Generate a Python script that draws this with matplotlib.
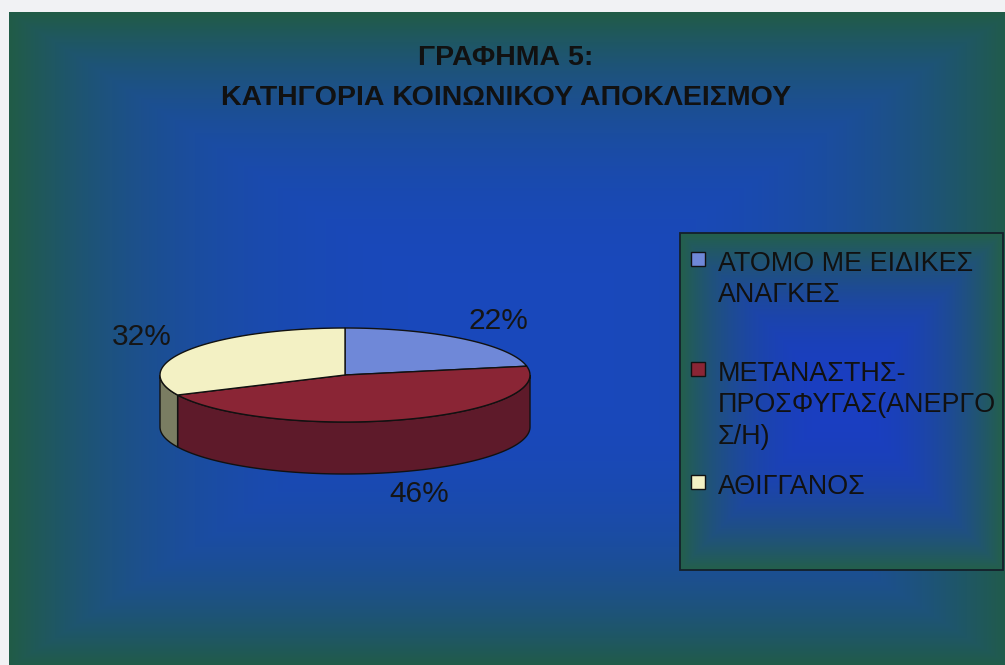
import numpy as np
import matplotlib
matplotlib.use('Agg')
from matplotlib import pyplot as plt
from matplotlib.patches import Polygon, Rectangle
from matplotlib.colors import to_rgb

# chart data
title_lines = ['ΓΡΑΦΗΜΑ 5:', 'ΚΑΤΗΓΟΡΙΑ ΚΟΙΝΩΝΙΚΟΥ ΑΠΟΚΛΕΙΣΜΟΥ']
labels = ['ΑΤΟΜΟ ΜΕ ΕΙΔΙΚΕΣ\nΑΝΑΓΚΕΣ',
          'ΜΕΤΑΝΑΣΤΗΣ-\nΠΡΟΣΦΥΓΑΣ(ΑΝΕΡΓΟ\nΣ/Η)',
          'ΑΘΙΓΓΑΝΟΣ']
shares = [22, 46, 32]
top_colors = ['#6f88d8', '#8a2535', '#f3f1c4']
side_colors = ['#4a5c98', '#5e1a2a', '#7a7d62']

plt.rcParams['font.family'] = ['Liberation Sans', 'DejaVu Sans']

fig = plt.figure(figsize=(10.05, 6.65), dpi=100)
fig.patch.set_facecolor('#f1f2f4')
ax = fig.add_axes([0, 0, 1, 1])
ax.axis('off')


def gradient(x0, y0, x1, y1, inner, outer, power, z):
    # rectangular "from centre" fill, like the old Excel chart areas
    w, h = int(x1 - x0), int(y1 - y0)
    yy, xx = np.mgrid[0:h, 0:w]
    tx = np.abs((xx + 0.5) / w * 2 - 1)
    ty = np.abs((yy + 0.5) / h * 2 - 1)
    t = (np.maximum(tx, ty) ** power)[..., None]
    img = np.array(to_rgb(inner)) * (1 - t) + np.array(to_rgb(outer)) * t
    ax.imshow(img, extent=(x0, x1, y1, y0), zorder=z, interpolation='none')


# chart area background
gradient(9, 12, 1012, 668, '#1948bc', '#215c46', 3.0, 0)

# title
for i, line in enumerate(title_lines):
    ax.text(506, 65 + 40 * i, line, ha='center', va='baseline',
            fontsize=20.5, fontweight='bold', color='#111111', zorder=5)

# 3d pie
cx, cy, a, b, depth = 345, 375, 185, 47, 52
vals = np.array(shares, float)
bounds = 90 - 360 * np.concatenate([[0], np.cumsum(vals) / vals.sum()])


def arc(t1, t2, dy=0, n=120):
    t = np.radians(np.linspace(t1, t2, n))
    return np.column_stack([cx + a * np.cos(t), cy - b * np.sin(t) + dy])


# side walls (front half only)
for i in range(len(vals)):
    hi, lo = bounds[i], bounds[i + 1]
    for k in (-1, 0, 1):
        s, e = max(lo + 360 * k, -180), min(hi + 360 * k, 0)
        if s < e:
            pts = np.vstack([arc(s, e), arc(e, s, depth)])
            ax.add_patch(Polygon(pts, closed=True, facecolor=side_colors[i],
                                 edgecolor='#111111', lw=1.0, zorder=2))

# top faces
for i in range(len(vals)):
    pts = np.vstack([[cx, cy], arc(bounds[i], bounds[i + 1])])
    ax.add_patch(Polygon(pts, closed=True, facecolor=top_colors[i],
                         edgecolor='#111111', lw=1.0, zorder=3))

# percentage labels outside the pie
for i, v in enumerate(vals):
    mid = np.radians((bounds[i] + bounds[i + 1]) / 2)
    lx = cx + 1.3 * a * np.cos(mid)
    ly = cy - 1.5 * b * np.sin(mid)
    if np.sin(mid) < 0:
        ly += depth
    ax.text(lx, ly, f'{v / vals.sum() * 100:.0f}%', ha='center', va='center',
            fontsize=21.5, color='#151515', zorder=5)

# legend box
gradient(680, 233, 1003, 570, '#1a3ec2', '#24604a', 2.4, 1)
ax.add_patch(Rectangle((680, 233), 323, 337, fill=False,
                       edgecolor='#14202a', lw=1.3, zorder=4))
entry_tops = [252, 362, 475]
for i, lab in enumerate(labels):
    ax.add_patch(Rectangle((691, entry_tops[i]), 14, 14, facecolor=top_colors[i],
                           edgecolor='#111111', lw=1.0, zorder=5))
    for j, line in enumerate(lab.split('\n')):
        ax.text(718, entry_tops[i] + 19 + 31.5 * j, line, ha='left', va='baseline',
                fontsize=19.4, color='#111111', zorder=5)

ax.set_aspect('auto')
ax.set_xlim(0, 1005)
ax.set_ylim(665, 0)

fig.savefig('out.png', dpi=100, facecolor=fig.get_facecolor())
